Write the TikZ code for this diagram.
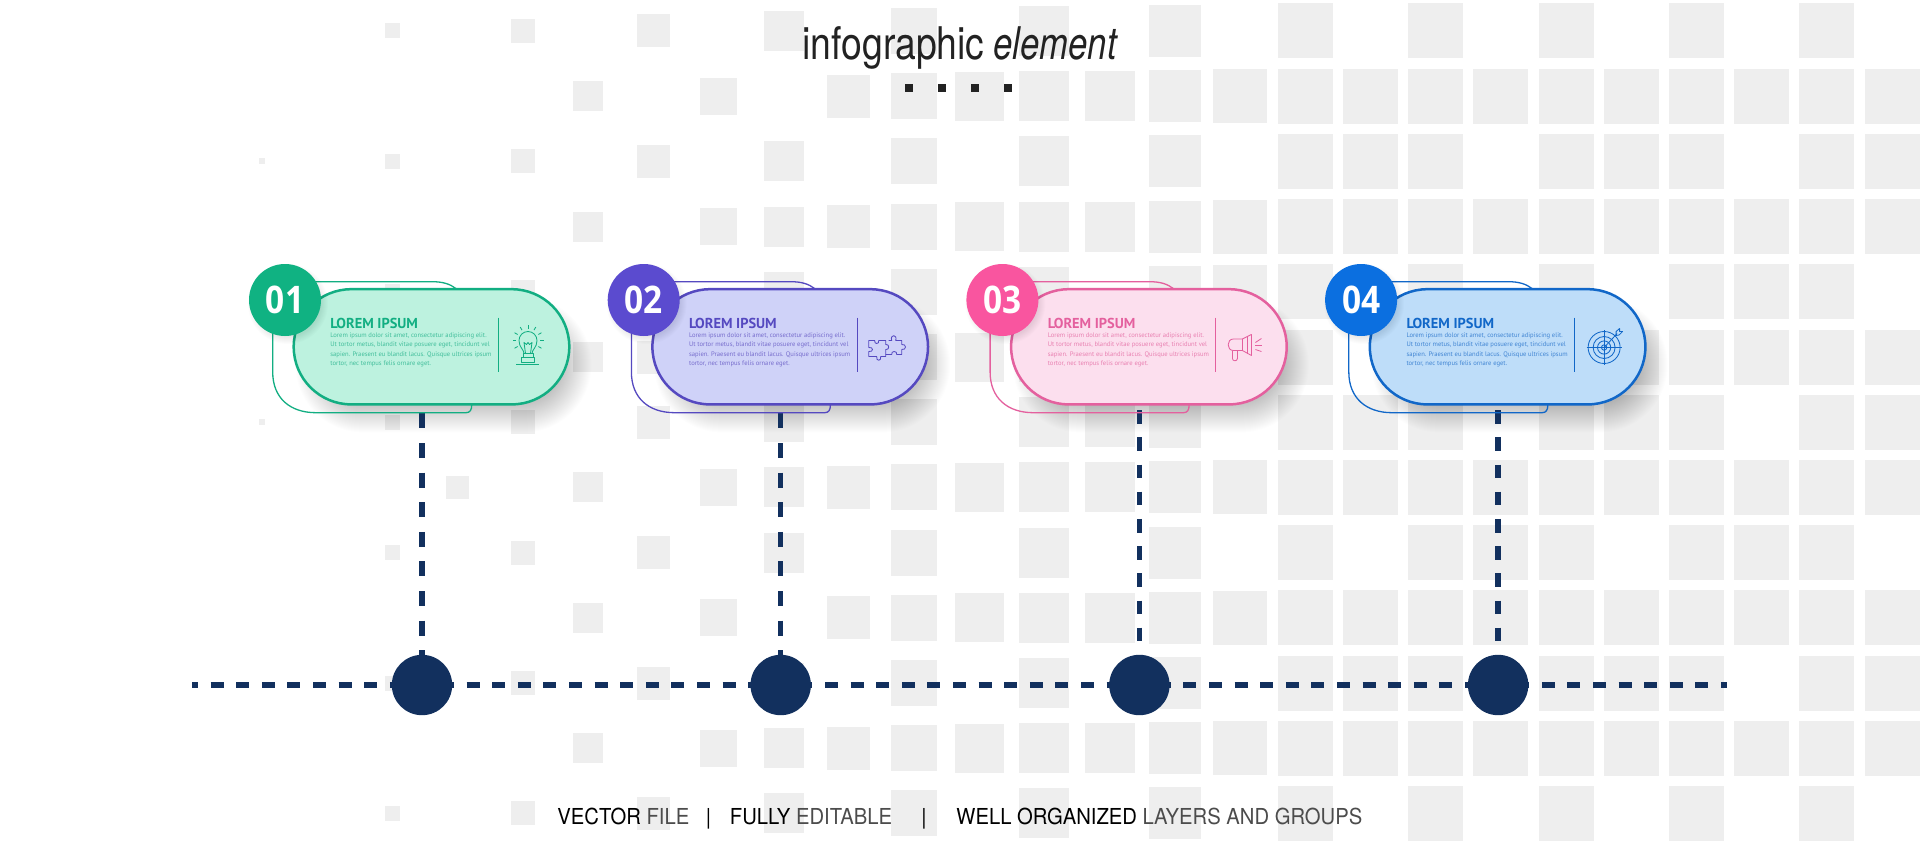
\documentclass[tikz,border=0pt]{standalone}
\usepackage{fontspec}
\usetikzlibrary{calc}
\setmainfont{TeX Gyre Heros}
\newfontfamily\headfont[FakeStretch=0.83]{TeX Gyre Heros}
\newfontfamily\headitfont[FakeStretch=0.77]{TeX Gyre Heros}
\newfontfamily\footfont[FakeStretch=0.92]{TeX Gyre Heros}
\newfontfamily\cardfont{PT Sans}
\newfontfamily\numfont[FakeStretch=0.88]{Open Sans}
\definecolor{gridgray}{HTML}{EEEEEE}
\definecolor{navy}{HTML}{12305E}
\definecolor{inkdark}{HTML}{222222}
\definecolor{strokeA}{HTML}{12AE82}\definecolor{fillA}{HTML}{BDF2DF}\definecolor{discA}{HTML}{10B282}
\definecolor{strokeB}{HTML}{5549C0}\definecolor{fillB}{HTML}{CFD2F8}\definecolor{discB}{HTML}{5B4BCF}
\definecolor{strokeC}{HTML}{E4609E}\definecolor{fillC}{HTML}{FCDFEE}\definecolor{discC}{HTML}{F9559F}
\definecolor{strokeD}{HTML}{1167C8}\definecolor{fillD}{HTML}{BEDDF9}\definecolor{discD}{HTML}{0B6FE0}
\pgfdeclarelayer{grid}\pgfdeclarelayer{soft}\pgfdeclarelayer{links}
\pgfsetlayers{grid,soft,links,main}
\tikzset{
  gridsq/.style={fill=gridgray},
  pill/.style={draw,rounded corners=28.8pt,line width=1.25pt,minimum width=137.8pt,minimum height=57.6pt,inner sep=0pt,outer sep=0pt},
  disc/.style={circle,minimum size=36pt,inner sep=0pt,outer sep=0pt,text=white,font=\numfont\bfseries\fontsize{19}{19}\selectfont},
  backline/.style={line width=0.65pt},
  rule/.style={line width=0.5pt},
  hub/.style={circle,fill=navy,minimum size=30.2pt,inner sep=0pt,outer sep=0pt},
  link/.style={draw=navy,line width=2.75pt},
  icon/.style={line width=0.42pt,line join=round},
  cardhead/.style={anchor=west,inner sep=0pt,font=\cardfont\bfseries\fontsize{7.2}{7.2}\selectfont},
  cardbody/.style={anchor=north west,inner sep=0pt,align=left,font=\cardfont\fontsize{3.3}{4.65}\selectfont},
  foottext/.style={anchor=base west,inner sep=0pt,text=black,font=\footfont\fontsize{11}{11}\selectfont},
  titlemark/.style={fill=inkdark}
}
\newcommand{\iconbulb}{%
  \draw (-4,6) .. controls (-4,2) and (-9,0) .. (-9,-7) .. controls (-9,-12) and (-5,-16) .. (0,-16) .. controls (5,-16) and (9,-12) .. (9,-7) .. controls (9,0) and (4,2) .. (4,6) -- cycle;
  \draw (-2.5,6) -- (-4,-5) -- (-1.5,-3) -- (0,-5) -- (1.5,-3) -- (4,-5) -- (2.5,6);
  \draw (-5,6) rectangle (5,10);
  \draw (-6.5,10) rectangle (6.5,15);
  \draw (-12,17) -- (11,17);
  \foreach \a in {-210,-180,...,30}{\draw ({12*cos(\a)},{-7+12*sin(\a)}) -- ({15.5*cos(\a)},{-7+15.5*sin(\a)});}
}
\newcommand{\iconpuzzle}{%
  \draw (-18,-7) -- (-12,-7) .. controls (-13,-3) and (-7,-3) .. (-8,-7) -- (-1,-7) -- (-1,-3) .. controls (3,-4) and (3,3) .. (-1,2) -- (-1,9) -- (-6,9) .. controls (-5,14) and (-11,14) .. (-10,9) -- (-18,9) -- (-18,4) .. controls (-13,5) and (-13,-1) .. (-18,0) -- cycle;
  \draw (2,-7) -- (5,-7) .. controls (3,-13.5) and (11,-13.5) .. (9,-7) -- (15,-7) -- (15,-3) .. controls (20,-4) and (20,3) .. (15,2) -- (15,7) -- (10,7) .. controls (11,3) and (4,3) .. (5,7) -- (-1,7);
}
\newcommand{\iconhorn}{%
  \draw (-3,-8.5) -- (-12,-8.5) .. controls (-19,-8.5) and (-19,3) .. (-12,3) -- (-3,3);
  \draw (-3,-8.5) -- (6,-13) -- (6,8) -- (-3,3) -- cycle;
  \draw (2,-11) -- (2,6);
  \draw (-13,3) -- (-13,11) .. controls (-13,14) and (-8,14) .. (-8,11) -- (-8,3);
  \draw (10,-5) -- (16,-9);
  \draw (10,-2) -- (17,-2);
  \draw (10,2) -- (16,4);
}
\newcommand{\icontarget}{%
  \foreach \r in {16,11,6.6,2.7}{\draw (0,0) circle[radius=\r];}
  \draw (-17.5,0) -- (17.5,0);
  \draw (0,-17.5) -- (0,17.5);
  \draw (0,0) -- (13,-14);
  \draw (12,-12) -- (12,-16) -- (15.5,-19) -- (15.5,-16) -- (18.5,-16) -- (15,-12.5) -- cycle;
}
\begin{document}
\begin{tikzpicture}[x=0.5pt,y=-0.5pt]
\useasboundingbox (0,0) rectangle (1920,845);
% background squares
\begin{pgfonlayer}{grid}
\fill[white] (0,0) rectangle (1920,845);
\foreach \r/\cols in {
 0/{2,4,6,8,10,12,14,16,18,20,22,24},
 1/{5,7,9,10,11,12,13,14,15,16,17,18,19,20,21,22,23,24,25},
 2/{0,2,4,6,8,10,12,14,16,17,18,20,21,22,24,25},
 3/{5,7,8,9,10,11,12,13,14,15,16,17,18,19,20,21,22,23,24,25},
 4/{2,4,6,8,10,12,14,15,16,18,20,22,23,24},
 5/{5,6,7,9,10,11,12,16,21,22,23,24,25},
 6/{0,2,4,6,8,10,12,13,14,16,17,18,20,21,22,24,25},
 7/{3,5,7,8,9,10,11,12,13,14,15,16,17,18,19,20,21,22,23,24,25},
 8/{2,4,6,8,10,12,14,16,18,19,20,22,23,24},
 9/{5,7,9,10,11,12,13,14,15,16,17,18,19,20,21,22,23,24,25},
 10/{2,4,6,8,10,12,14,16,17,18,20,21,22,24,25},
 11/{5,7,8,9,10,11,12,13,14,15,16,17,18,19,20,21,22,23,24,25},
 12/{2,4,6,8,10,12,14,16,18,20,22,24}}{
  \foreach \k in \cols {
    \pgfmathsetmacro\sz{{6,11,15,23,24,30,33,37,40,43,46,49,50,50,52,54,55,55,55,55,55,55,55,55,55,55}[\k]}
    \pgfmathsetmacro\xa{262+65.2*\k-\sz/2}
    \pgfmathsetmacro\xb{262+65.2*\k+\sz/2}
    \pgfmathsetmacro\ya{31+65.2*\r-\sz/2}
    \pgfmathsetmacro\yb{31+65.2*\r+\sz/2}
    \fill[gridsq] (\xa,\ya) rectangle (\xb,\yb);
  }
}
\end{pgfonlayer}
% title
\node[anchor=base west,inner sep=0pt,text=inkdark,font=\headfont\fontsize{22.5}{22.5}\selectfont] (titlea) at (802,60) {infographic};
\node[anchor=base west,inner sep=0pt,text=inkdark,font=\headitfont\itshape\fontsize{22.5}{22.5}\selectfont] (titleb) at (993,60) {element};
\foreach \mx in {909,941.7,975,1007.7}{\fill[titlemark] (\mx-4,84) rectangle (\mx+4,92);}
% axis
\coordinate (axisL) at (192,685);
\coordinate (axisR) at (1727,685);
\begin{pgfonlayer}{links}
\draw[link,dash pattern=on 6.5pt off 6.3pt,dash phase=3.5pt] (axisL) -- (axisR);
\end{pgfonlayer}
% cards
\foreach \i/\s/\d/\e/\num/\icn/\per/\gap/\ph in {
  0/strokeA/discA/fillA/01/\iconbulb/7.5/7.3/10.3,
  1/strokeB/discB/fillB/02/\iconpuzzle/7.5/7.3/10.3,
  2/strokeC/discC/fillC/03/\iconhorn/6.8/6.8/10.75,
  3/strokeD/discD/fillD/04/\icontarget/6.8/6.8/10.75}{
\pgfmathsetmacro\ox{358.7*\i}
\begin{scope}[xshift=\ox*0.5pt]
  % soft shadow of the pill
  \begin{pgfonlayer}{soft}
  \foreach \n in {0,...,29}{
    \pgfmathsetmacro\grow{10-\n}
    \pgfmathsetmacro\rad{max(28.8+\grow/2,1)}
    \fill[black,opacity=0.0065,rounded corners=\rad pt] (293.5+12-\grow,289.2+18-\grow) rectangle (569.5+12+\grow,404.4+18+\grow);
  }
  \end{pgfonlayer}
  % back outline
  \draw[backline,draw=\s] (290,281.7) -- (432,281.7) .. controls (443,281.7) and (450,284) .. (456,288.6);
  \draw[backline,draw=\s] (272.7,330) -- (272.7,372) .. controls (272.7,398) and (290,412.7) .. (316,412.7) -- (466,412.7) .. controls (470,412.7) and (471.7,410) .. (471.7,405);
  % pill
  \node[pill,draw=\s,fill=\e] (card\i) at (431.5,346.8) {};
  % shadow of the disc on the pill
  \foreach \n in {0,...,7}{
    \pgfmathsetmacro\rr{40-\n}
    \fill[black,opacity=0.012] (288,304) circle[radius=\rr];
  }
  \node[disc,fill=\d] (badge\i) at (285,300) {\num};
  \node[cardhead,text=\s] (head\i) at (330,323.3) {LOREM IPSUM};
  \node[cardbody,text=\s!80!white] (body\i) at (330,332.5) {Lorem ipsum dolor sit amet, consectetur adipiscing elit.\\Ut tortor metus, blandit vitae posuere eget, tincidunt vel\\sapien. Praesent eu blandit lacus. Quisque ultrices ipsum\\tortor, nec tempus felis ornare eget.};
  \draw[rule,draw=\s] (498.3,317.7) -- (498.3,372.3);
  \begin{scope}[shift={(528,347.5)},icon,draw=\s]
    \icn
  \end{scope}
  % hub and its link
  \node[hub] (hub\i) at (422,685) {};
\end{scope}
\begin{pgfonlayer}{links}
  \draw[link,dash pattern=on \per pt off \gap pt,dash phase=\ph pt] (hub\i |- card\i.south) -- (hub\i.center);
\end{pgfonlayer}
}
% footer
\node[foottext] (f1) at (557,824) {VECTOR \textcolor{black!70}{FILE}};
\node[foottext] (s1) at (705.5,824) {|};
\node[foottext] (f2) at (729.5,824) {FULLY \textcolor{black!70}{EDITABLE}};
\node[foottext] (s2) at (921,824) {|};
\node[foottext] (f3) at (956,824) {WELL ORGANIZED \textcolor{black!70}{LAYERS AND GROUPS}};
\end{tikzpicture}
\end{document}
